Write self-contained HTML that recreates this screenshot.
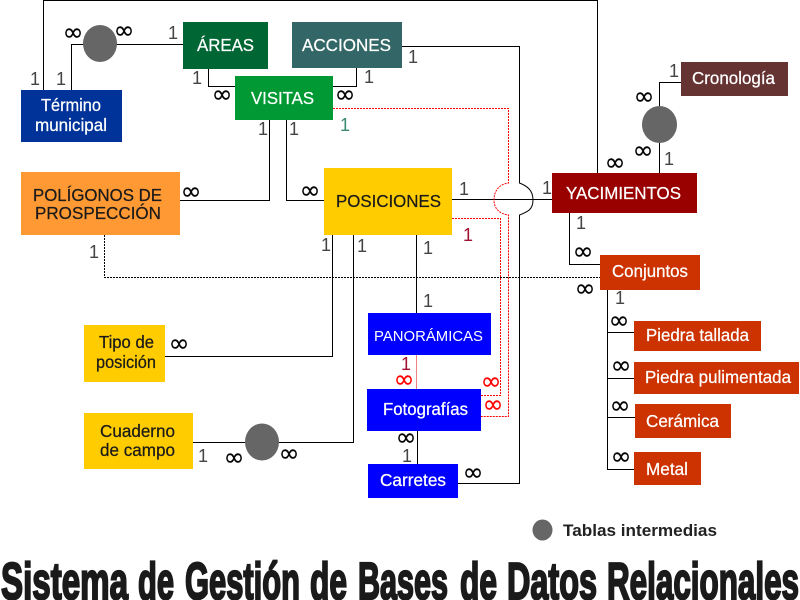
<!DOCTYPE html>
<html><head><meta charset="utf-8"><style>
html,body{margin:0;padding:0;background:#fff;width:800px;height:600px;overflow:hidden}
svg{display:block}
text{font-family:"Liberation Sans",sans-serif}
.w{fill:#fff;stroke:#fff;stroke-width:.25;font-size:17.5px}
.k{fill:#1a1a1a;stroke:#1a1a1a;stroke-width:.25;font-size:17.5px}
.o{fill:#444;font-size:18px;text-anchor:middle}
.r{fill:#a01030;font-size:18px;text-anchor:middle}
.i{fill:#000;font-size:25px;font-family:"DejaVu Sans",sans-serif;stroke:#000;stroke-width:.2;text-anchor:middle;dominant-baseline:central}
.ir{fill:#f00;font-size:25px;font-family:"DejaVu Sans",sans-serif;stroke:#f00;stroke-width:.2;text-anchor:middle;dominant-baseline:central}
.t{font-size:52px;font-weight:bold;fill:#1a1a1a;stroke:#1a1a1a;stroke-width:2.2}
</style></head><body>
<svg width="800" height="600" viewBox="0 0 800 600" xmlns="http://www.w3.org/2000/svg">
<g fill="none" stroke="#000" stroke-width="1">
<path d="M43.5 90V.5H597.5V173"/>
<path d="M71.5 90V44.5H84M116 44.5H183"/>
<path d="M208.5 69V86.5H235M333 86.5H356.5V68"/>
<path d="M269.5 120V200.5H180M286.5 120V200.5H324"/>
<path d="M402 46.5H519.5V183C527 186 533 190 533 200C533 210 527 212 519.5 215V483.5H458"/>
<path d="M452 199.5H552"/>
<path d="M332.5 235V356.5H165M353.5 235V442.5H279M245 442.5H193"/>
<path d="M416.5 235V313M417.5 431V464"/>
<path d="M569.5 213V264.5H600"/>
<path d="M607.5 290V469.5H634M607.5 332.5H634M607.5 378.5H634M607.5 417.5H635"/>
<path d="M659.5 173V142M659.5 107V82.5H681"/>
<path d="M104.5 235V277.5H600" stroke-dasharray="2 1"/>
</g>
<g fill="none" stroke="#f00" stroke-width="1">
<path d="M333 108.5H508.5V183C500 184 494 190 494 200C494 209 500 214 508.5 215V416.5H481" stroke-dasharray="2 1"/>
<path d="M452 218.5H500.5V395.5H481" stroke-dasharray="2 1"/>
<path d="M416.5 355V389" stroke="#f08080"/>
</g>
<g fill="#666">
<ellipse cx="100" cy="43.5" rx="17" ry="18.5"/>
<ellipse cx="659.5" cy="124.5" rx="17.5" ry="18.5"/>
<ellipse cx="262" cy="442" rx="17" ry="18.5"/>
<ellipse cx="542.5" cy="530" rx="10" ry="10.5"/>
</g>
<rect x="21" y="90" width="101" height="52" fill="#003399"/>
<rect x="183" y="22" width="85" height="47" fill="#006633"/>
<rect x="292" y="22" width="110" height="46" fill="#336666"/>
<rect x="235" y="76" width="98" height="44" fill="#009933"/>
<rect x="21" y="172" width="159" height="63" fill="#ff9933"/>
<rect x="324" y="168" width="128" height="67" fill="#ffcc00"/>
<rect x="552" y="173" width="145" height="40" fill="#990000"/>
<rect x="681" y="62" width="107" height="34" fill="#663333"/>
<rect x="600" y="255" width="100" height="35" fill="#cc3300"/>
<rect x="84" y="325" width="81" height="57" fill="#ffcc00"/>
<rect x="84" y="413" width="109" height="56" fill="#ffcc00"/>
<rect x="368" y="313" width="123" height="42" fill="#0000ff"/>
<rect x="367" y="389" width="114" height="42" fill="#0000ff"/>
<rect x="368" y="464" width="90" height="34" fill="#0000ff"/>
<rect x="634" y="321" width="127" height="30" fill="#cc3300"/>
<rect x="634" y="362" width="165" height="32" fill="#cc3300"/>
<rect x="635" y="404" width="96" height="34" fill="#cc3300"/>
<rect x="634" y="452" width="67" height="33" fill="#cc3300"/>
<g>
<text class="w" x="41" y="111" textLength="60" lengthAdjust="spacingAndGlyphs">Término</text>
<text class="w" x="35" y="131" textLength="72" lengthAdjust="spacingAndGlyphs">municipal</text>
<text class="w" x="197" y="51" textLength="57" lengthAdjust="spacingAndGlyphs">ÁREAS</text>
<text class="w" x="302" y="51" textLength="89" lengthAdjust="spacingAndGlyphs">ACCIONES</text>
<text class="w" x="251" y="104" textLength="63" lengthAdjust="spacingAndGlyphs">VISITAS</text>
<text class="k" x="33" y="201" textLength="129" lengthAdjust="spacingAndGlyphs">POLÍGONOS DE</text>
<text class="k" x="35" y="219" textLength="126" lengthAdjust="spacingAndGlyphs">PROSPECCIÓN</text>
<text class="k" x="336" y="207" textLength="105" lengthAdjust="spacingAndGlyphs">POSICIONES</text>
<text class="w" x="566" y="199" textLength="115" lengthAdjust="spacingAndGlyphs">YACIMIENTOS</text>
<text class="w" x="692" y="84" textLength="83" lengthAdjust="spacingAndGlyphs">Cronología</text>
<text class="w" x="612" y="277" textLength="76" lengthAdjust="spacingAndGlyphs">Conjuntos</text>
<text class="k" x="99" y="348" textLength="55" lengthAdjust="spacingAndGlyphs">Tipo de</text>
<text class="k" x="96" y="368" textLength="60" lengthAdjust="spacingAndGlyphs">posición</text>
<text class="k" x="100" y="437" textLength="75" lengthAdjust="spacingAndGlyphs">Cuaderno</text>
<text class="k" x="100" y="456" textLength="75" lengthAdjust="spacingAndGlyphs">de campo</text>
<text x="374" y="341" textLength="109" lengthAdjust="spacingAndGlyphs" style="font-size:15px;fill:#fff">PANORÁMICAS</text>
<text class="w" x="383" y="415" textLength="85" lengthAdjust="spacingAndGlyphs">Fotografías</text>
<text class="w" x="380" y="486" textLength="66" lengthAdjust="spacingAndGlyphs">Carretes</text>
<text class="w" x="646" y="341" textLength="103" lengthAdjust="spacingAndGlyphs">Piedra tallada</text>
<text class="w" x="645" y="383" textLength="146" lengthAdjust="spacingAndGlyphs">Piedra pulimentada</text>
<text class="w" x="646" y="427" textLength="73" lengthAdjust="spacingAndGlyphs">Cerámica</text>
<text class="w" x="646" y="475" textLength="42" lengthAdjust="spacingAndGlyphs">Metal</text>
<text x="563" y="536" textLength="154" lengthAdjust="spacingAndGlyphs" style="font-size:17px;font-weight:bold;fill:#222">Tablas intermedias</text>
</g>
<g>
<text class="o" x="35" y="85">1</text><text class="o" x="61" y="85">1</text>
<text class="o" x="173" y="39">1</text><text class="o" x="197" y="84">1</text>
<text class="o" x="369" y="83">1</text><text class="o" x="413" y="63">1</text>
<text class="o" x="263" y="135">1</text><text class="o" x="294" y="135">1</text>
<text class="o" x="464" y="195">1</text><text class="o" x="547" y="194">1</text>
<text class="o" x="581" y="229">1</text><text class="o" x="428" y="254">1</text>
<text class="o" x="428" y="307">1</text><text class="o" x="326" y="251">1</text>
<text class="o" x="362" y="252">1</text><text class="o" x="94" y="258">1</text>
<text class="o" x="203" y="462">1</text><text class="o" x="407" y="462">1</text>
<text class="o" x="620" y="304">1</text><text class="o" x="674" y="77">1</text>
<text class="o" x="669" y="165">1</text>
<text class="r" x="345" y="131" style="fill:#3a8a70">1</text>
<text class="r" x="468" y="241">1</text><text class="r" x="406" y="370">1</text>
</g>
<g>
<text class="i" x="73" y="32">∞</text><text class="i" x="124" y="30">∞</text>
<text class="i" x="222" y="94">∞</text><text class="i" x="345" y="94">∞</text>
<text class="i" x="191" y="191">∞</text><text class="i" x="310" y="190">∞</text>
<text class="i" x="615" y="162">∞</text><text class="i" x="644" y="96">∞</text>
<text class="i" x="643" y="150">∞</text><text class="i" x="583" y="251">∞</text>
<text class="i" x="585" y="288">∞</text><text class="i" x="619" y="320">∞</text>
<text class="i" x="621" y="365">∞</text><text class="i" x="620" y="405">∞</text>
<text class="i" x="621" y="456">∞</text><text class="i" x="179" y="343">∞</text>
<text class="i" x="234" y="457">∞</text><text class="i" x="289" y="453">∞</text>
<text class="i" x="406" y="437">∞</text><text class="i" x="473" y="472">∞</text>
<text class="ir" x="404" y="379">∞</text><text class="ir" x="491" y="381">∞</text>
<text class="ir" x="493" y="404">∞</text>
</g>
<text class="t" y="599" x="1" textLength="127" lengthAdjust="spacingAndGlyphs">Sistema</text>
<text class="t" y="599" x="138" textLength="36" lengthAdjust="spacingAndGlyphs">de</text>
<text class="t" y="599" x="185" textLength="115" lengthAdjust="spacingAndGlyphs">Gestión</text>
<text class="t" y="599" x="310" textLength="37" lengthAdjust="spacingAndGlyphs">de</text>
<text class="t" y="599" x="358" textLength="90" lengthAdjust="spacingAndGlyphs">Bases</text>
<text class="t" y="599" x="460" textLength="37" lengthAdjust="spacingAndGlyphs">de</text>
<text class="t" y="599" x="507" textLength="90" lengthAdjust="spacingAndGlyphs">Datos</text>
<text class="t" y="599" x="607" textLength="192" lengthAdjust="spacingAndGlyphs">Relacionales</text>
</svg>
</body></html>
